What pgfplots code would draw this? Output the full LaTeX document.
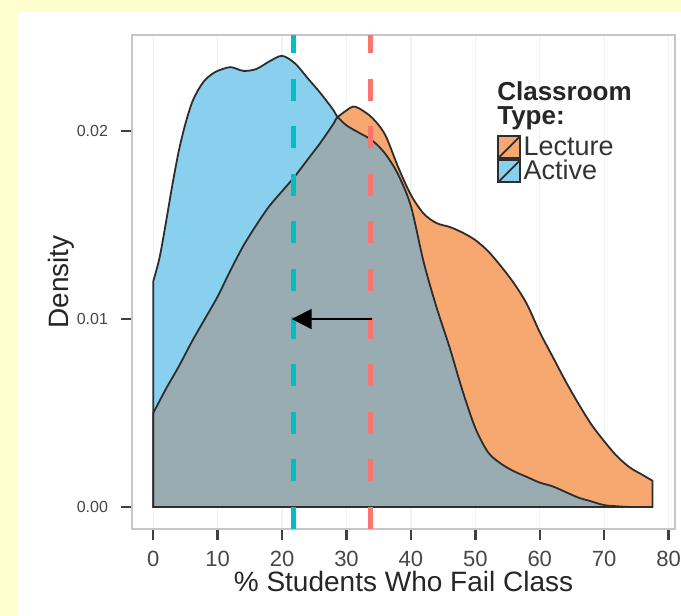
\documentclass[border=0pt]{standalone}
\usepackage{fontspec}
\setmainfont{Liberation Sans}
\usepackage{pgfplots}
\usepackage{pgfplotstable}
\pgfplotsset{compat=1.18}
\usetikzlibrary{arrows.meta}
\definecolor{bgyellow}{RGB}{255,255,206}
\definecolor{lecorange}{RGB}{246,168,112}
\definecolor{actblue}{RGB}{137,208,238}
\definecolor{overgrey}{RGB}{152,172,178}
\definecolor{ggteal}{RGB}{0,191,196}
\definecolor{ggred}{RGB}{248,118,109}
\definecolor{outline}{RGB}{45,45,45}

\pgfplotstableread{
x     y
0     0.0050
2     0.0063
4     0.0075
6     0.0088
8     0.0100
10    0.0112
12    0.0126
14    0.0139
16    0.0150
18    0.0160
20    0.0168
22    0.0176
24    0.0185
26    0.0194
28    0.0204
28.5  0.0207
30    0.0211
31    0.0213
32    0.0212
34    0.0207
36    0.0198
38    0.0181
40    0.0166
42    0.0156
44    0.0151
46    0.0149
48    0.0146
50    0.0142
52    0.0136
54    0.0128
56    0.0119
58    0.0108
60    0.0093
62    0.0080
64    0.0067
66    0.0055
68    0.0044
70    0.0035
72    0.0027
74    0.0021
76    0.0017
77.5  0.0014
}\tabLecture

\pgfplotstableread{
x     y
0     0.0120
1     0.0133
2     0.0152
3     0.0172
4     0.0190
5     0.0204
6     0.0215
7     0.0222
8     0.0227
9     0.0230
10    0.0232
12    0.0234
14    0.0232
16    0.0233
18    0.0237
20    0.0240
22    0.0236
24    0.0228
26    0.0220
28    0.0211
28.5  0.0208
30    0.0203
32    0.0199
34    0.0195
36    0.0188
38    0.0177
40    0.0160
42    0.0130
44    0.0106
46    0.0085
48    0.0062
50    0.0042
52    0.0029
54    0.0023
56    0.0019
58    0.0016
60    0.0013
62    0.0011
64    0.0008
66    0.0005
68    0.0003
70    0.0001
72    0.00004
74    0.0
76    0.0
77.5  0.0
}\tabActive

% overlap region: Lecture below the crossing, Active above it
\pgfplotstableread{
x     y
0     0.0050
2     0.0063
4     0.0075
6     0.0088
8     0.0100
10    0.0112
12    0.0126
14    0.0139
16    0.0150
18    0.0160
20    0.0168
22    0.0176
24    0.0185
26    0.0194
28    0.0204
28.5  0.0208
30    0.0203
32    0.0199
34    0.0195
36    0.0188
38    0.0177
40    0.0160
42    0.0130
44    0.0106
46    0.0085
48    0.0062
50    0.0042
52    0.0029
54    0.0023
56    0.0019
58    0.0016
60    0.0013
62    0.0011
64    0.0008
66    0.0005
68    0.0003
70    0.0001
72    0.00004
74    0.0
76    0.0
77.5  0.0
}\tabOverlap

\pgfplotsset{ggkey/.style={legend image code/.code={
  \draw[fill=#1, draw=outline, line width=0.8pt] (0pt,-5.5pt) rectangle (11pt,5.5pt);
  \draw[outline, line width=0.9pt] (0pt,-5.5pt) -- (11pt,5.5pt);}}}

\begin{document}
\begin{tikzpicture}[x=1pt,y=1pt]
\useasboundingbox (-66,-43.5) rectangle (274.5,264.5);
\fill[bgyellow] (-66,-43.5) rectangle (274.5,264.5);
\fill[white] (-57.5,-43.5) rectangle (274.5,258.5);
\begin{axis}[
  at={(0,0)}, anchor=south west,
  scale only axis, width=271.5pt, height=247pt,
  xmin=-3.3, xmax=81, ymin=-0.00117, ymax=0.02511,
  axis line style={draw=gray!45, line width=1pt},
  axis background/.style={fill=white},
  xtick={0,10,...,80},
  ytick={0,0.01,0.02},
  yticklabels={0.00,0.01,0.02},
  scaled y ticks=false,
  /pgf/number format/assume math mode=true,
  tick pos=left,
  tick align=outside,
  major tick length=5.5pt,
  tick style={line width=1.2pt, draw=black!75},
  xmajorgrids,
  grid style={gray!10, line width=0.6pt},
  xticklabel style={font=\fontsize{11}{12}\selectfont, text=black!72, yshift=-2pt},
  yticklabel style={font=\fontsize{8}{9}\selectfont, text=black!72, xshift=-3pt},
  xlabel={\% Students Who Fail Class},
  ylabel={Density},
  label style={font=\fontsize{14}{16}\selectfont, text=black!85},
  xlabel style={at={(axis description cs:0.5,0)}, anchor=center, yshift=-26pt},
  ylabel style={at={(axis description cs:-0.1308,0.5)}, anchor=center},
  legend cell align=left,
  legend style={at={(axis description cs:0.672,0.7976)}, anchor=north west,
    draw=none, fill=none, inner sep=0pt, row sep=0pt, column sep=1pt,
    font=\fontsize{13.5}{14}\selectfont, text=black!80,
    nodes={inner sep=0.3pt}},
  clip=true,
]
\addlegendimage{ggkey=lecorange}
\addlegendentry{Lecture}
\addlegendimage{ggkey=actblue}
\addlegendentry{Active}

\addplot[fill=lecorange, draw=none, smooth, forget plot] table {\tabLecture} \closedcycle;
\addplot[fill=actblue, draw=none, smooth, forget plot] table {\tabActive} \closedcycle;
\addplot[fill=overgrey, draw=none, smooth, forget plot] table {\tabOverlap} \closedcycle;
\addplot[draw=outline, line width=0.9pt, smooth, forget plot] table {\tabLecture} \closedcycle;
\addplot[draw=outline, line width=0.9pt, smooth, forget plot] table {\tabActive} \closedcycle;

\addplot[ggred, line width=2.5pt, dash pattern=on 11pt off 12.8pt, forget plot]
  coordinates {(33.8,-0.00117) (33.8,0.02511)};
\addplot[ggteal, line width=2.5pt, dash pattern=on 11pt off 12.8pt, forget plot]
  coordinates {(21.7,-0.00117) (21.7,0.02511)};
\addplot[black, line width=1pt, -{Triangle[length=10pt,width=10pt]}, forget plot]
  coordinates {(34.0,0.0100) (21.5,0.0100)};

\node[anchor=center, font=\fontsize{21}{24}\selectfont] at (axis description cs:-0.127,0.968) {B};
\node[anchor=north west, align=left, inner sep=0pt, text=black!85,
  font=\bfseries\fontsize{13}{12}\selectfont] at (axis description cs:0.672,0.907) {Classroom\\Type:};
\end{axis}
\end{tikzpicture}
\end{document}
